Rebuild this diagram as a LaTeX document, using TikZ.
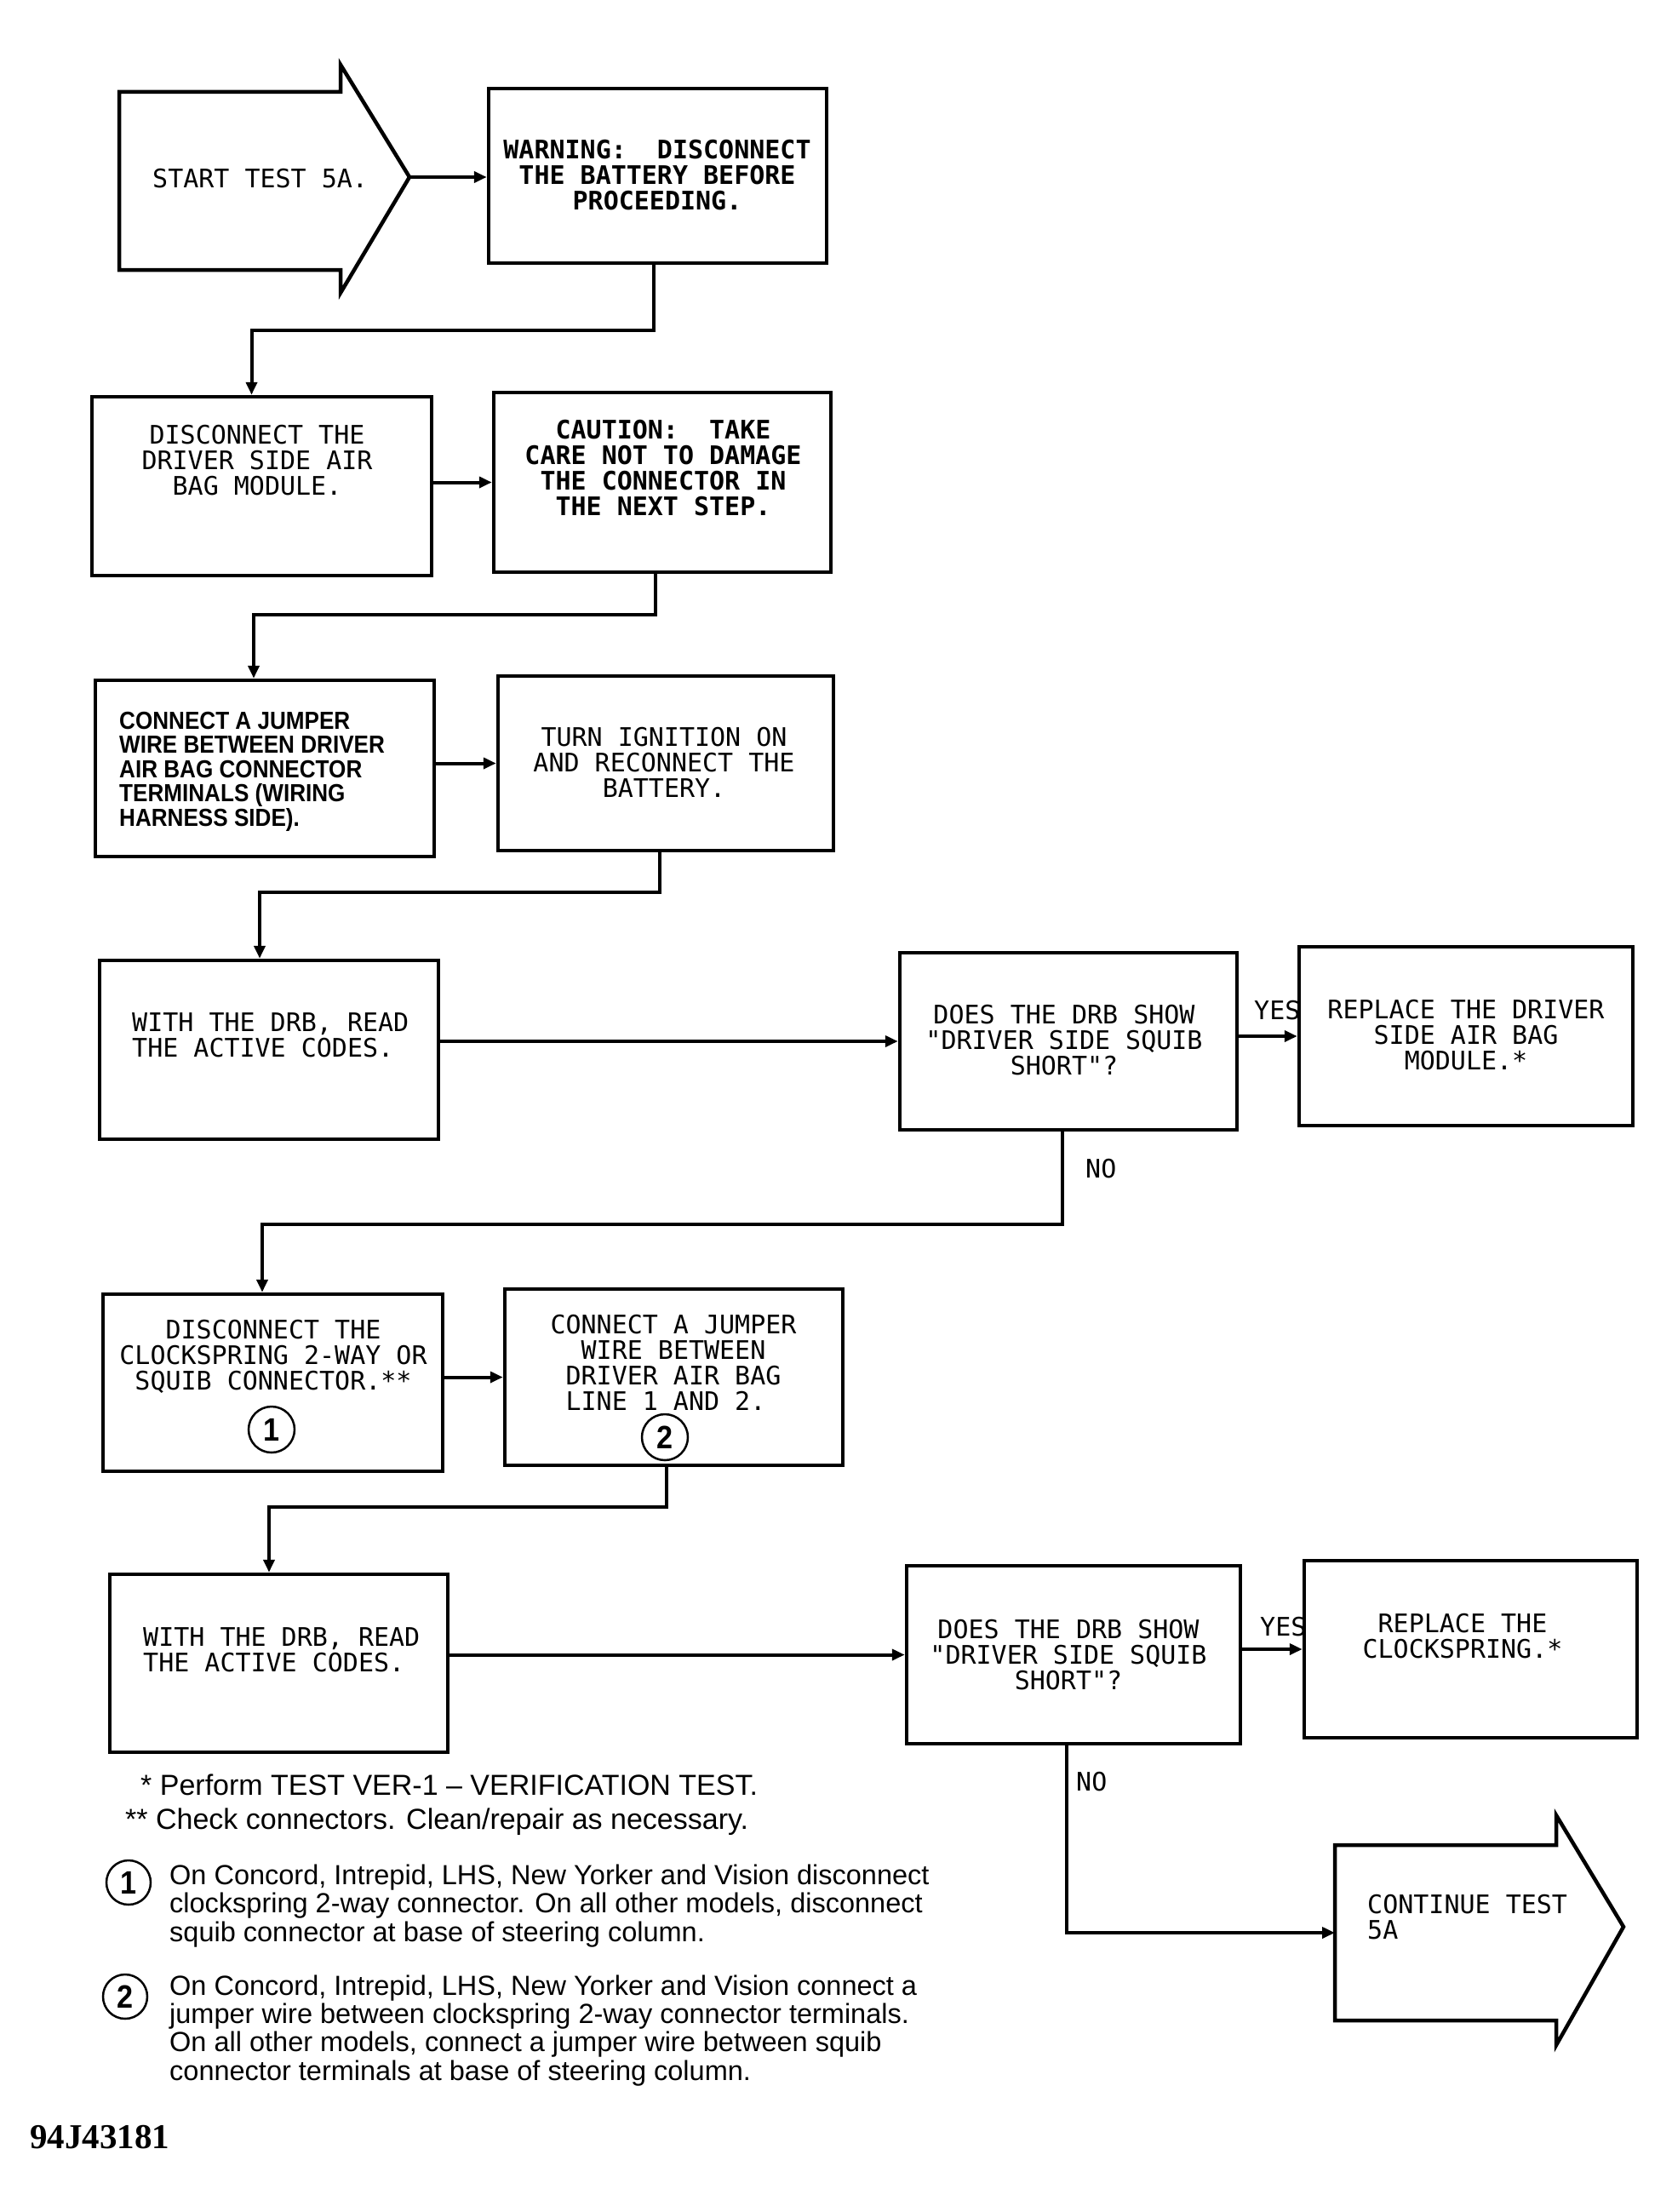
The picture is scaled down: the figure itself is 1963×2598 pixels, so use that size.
\documentclass[tikz,border=0pt]{standalone}
\usepackage{fontspec}
\usetikzlibrary{arrows.meta,calc}
\newfontfamily\boxf{DejaVu Sans Mono}
\newfontfamily\notef{Liberation Sans}
\newfontfamily\jumpf{Liberation Sans}[FakeStretch=0.9]
\newfontfamily\codef{Liberation Serif}
\tikzset{
  box/.style 2 args={draw, line width=4.5pt, inner sep=0pt, minimum width=#1, minimum height=#2},
  btxt/.style={font=\boxf\fontsize{30}{30}\selectfont, align=center, inner sep=0pt, anchor=base},
  bbtxt/.style={btxt, font=\boxf\bfseries\fontsize{30}{30}\selectfont},
  lbl/.style={font=\boxf\fontsize{30}{30}\selectfont, inner sep=0pt, anchor=base west},
  ntxt/.style={font=\notef\fontsize{32.5}{33.3}\selectfont, align=left, inner sep=0pt, anchor=base west},
  conn/.style={line width=4pt, -{Triangle[length=15pt,width=13pt]}},
  bigarrow/.style={draw, line width=4.5pt, line join=miter},
  circ/.style={draw, circle, line width=2.5pt, inner sep=0pt, minimum size=#1, font=\jumpf\bfseries\fontsize{38}{38}\selectfont},
}
\begin{document}
\begin{tikzpicture}[x=1pt,y=-1pt]
\fill[white] (0,0) rectangle (1963,2598);
\useasboundingbox (0,0) rectangle (1963,2598);

% start arrow
\draw[bigarrow] (140,108) -- (400,108) -- (400,76) -- (481,208) -- (400,344) -- (400,317) -- (140,317) -- cycle;
\coordinate (starttip) at (481,208);
\node[lbl] (startT) at (179,221) {START TEST 5A.};

% boxes
\node[box={397pt}{205pt}] (warn) at (772.5,206.5) {};
\node[box={399pt}{210pt}] (disc) at (307.5,571) {};
\node[box={396pt}{211pt}] (caut) at (778,566.5) {};
\node[box={398pt}{207pt}] (jump) at (311,902.5) {};
\node[box={394pt}{205pt}] (ign) at (782,896.5) {};
\node[box={398pt}{210pt}] (read1) at (316,1233) {};
\node[box={396pt}{208pt}] (dec1) at (1255,1223) {};
\node[box={392pt}{210pt}] (rep1) at (1722,1217) {};
\node[box={399pt}{208pt}] (clk) at (320.5,1624) {};
\node[box={397pt}{207pt}] (jmp2) at (791.5,1617.5) {};
\node[box={397pt}{209pt}] (read2) at (327.5,1953.5) {};
\node[box={392pt}{209pt}] (dec2) at (1261,1943.5) {};
\node[box={391pt}{208pt}] (rep2) at (1727.5,1937) {};

% continue arrow
\draw[bigarrow] (1568,2167) -- (1828,2167) -- (1828,2132) -- (1907,2263) -- (1828,2402) -- (1828,2373) -- (1568,2373) -- cycle;
\coordinate (contin) at (1568,2270);
\node[lbl, align=left] (contT) at (1606,2277) {CONTINUE TEST\\5A};

% box texts (anchor = baseline of the last line)
\node[bbtxt] (warnT) at (772,247) {WARNING:\ \ DISCONNECT\\THE BATTERY BEFORE\\PROCEEDING.};
\node[btxt] (discT) at (302,581) {DISCONNECT THE\\DRIVER SIDE AIR\\BAG MODULE.};
\node[bbtxt] (cautT) at (779,605) {CAUTION:\ \ TAKE\\CARE NOT TO DAMAGE\\THE CONNECTOR IN\\THE NEXT STEP.};
\node[font=\jumpf\bfseries\fontsize{29}{28.5}\selectfont, align=left, inner sep=0pt, anchor=base west] (jumpT) at (140,970)
  {CONNECT A JUMPER\\WIRE BETWEEN DRIVER\\AIR BAG CONNECTOR\\TERMINALS (WIRING\\HARNESS SIDE).};
\node[btxt] (ignT) at (780,936) {TURN IGNITION ON\\AND RECONNECT THE\\BATTERY.};
\node[lbl, align=left] (read1T) at (155,1241) {WITH THE DRB, READ\\THE ACTIVE CODES.};
\node[btxt] (dec1T) at (1250,1262) {DOES THE DRB SHOW\\"DRIVER SIDE SQUIB\\SHORT"?};
\node[btxt] (rep1T) at (1722,1256) {REPLACE THE DRIVER\\SIDE AIR BAG\\MODULE.*};
\node[btxt] (clkT) at (321,1632) {DISCONNECT THE\\CLOCKSPRING 2-WAY OR\\SQUIB CONNECTOR.**};
\node[btxt] (jmp2T) at (791,1656) {CONNECT A JUMPER\\WIRE BETWEEN\\DRIVER AIR BAG\\LINE 1 AND 2.\hphantom{X}};
\node[lbl, align=left] (read2T) at (168,1963) {WITH THE DRB, READ\\THE ACTIVE CODES.};
\node[btxt] (dec2T) at (1255,1984) {DOES THE DRB SHOW\\"DRIVER SIDE SQUIB\\SHORT"?};
\node[btxt] (rep2T) at (1718,1947) {REPLACE THE\\CLOCKSPRING.*};

% circled numbers in boxes
\node[circ=54pt] (c1) at (319,1679) {1};
\node[circ=54pt] (c2) at (781,1688) {2};

% connectors
\draw[conn] (starttip) -- (starttip -| warn.west);
\draw[conn] ([xshift=-5pt]warn.south) -- ++(0,77) -| ([xshift=-12pt]disc.north);
\draw[conn] (disc.east |- caut.west) -- (caut.west);
\draw[conn] ([xshift=-8pt]caut.south) -- ++(0,48) -| ([xshift=-13pt]jump.north);
\draw[conn] (jump.east |- ign.west) -- (ign.west);
\draw[conn] ([xshift=-7pt]ign.south) -- ++(0,47) -| ([xshift=-11pt]read1.north);
\draw[conn] (read1.east |- dec1.west) -- (dec1.west);
\draw[conn] (dec1.east |- rep1.west) -- (rep1.west);
\node[lbl] (yes1) at (1473,1197) {YES};
\draw[conn] ([xshift=-7pt]dec1.south) -- ++(0,109) -| ([xshift=-12.5pt]clk.north);
\node[lbl] (no1) at (1275,1383) {NO};
\draw[conn] (clk.east |- jmp2.west) -- (jmp2.west);
\draw[conn] ([xshift=-8.5pt]jmp2.south) -- ++(0,47) -| ([xshift=-11.5pt]read2.north);
\draw[conn] (read2.east |- dec2.west) -- (dec2.west);
\draw[conn] (dec2.east |- rep2.west) -- (rep2.west);
\node[lbl] (yes2) at (1480,1921) {YES};
\draw[conn] ([xshift=-8pt]dec2.south) |- (contin);
\node[lbl] (no2) at (1264,2103) {NO};

% footnotes
\node[ntxt, font=\notef\fontsize{34}{34}\selectfont] (f1) at (165,2108) {* Perform TEST VER-1 – VERIFICATION TEST.};
\node[ntxt, font=\notef\fontsize{34}{34}\selectfont] (f2) at (147,2148) {** Check connectors. Clean/repair as necessary.};
\node[circ=52pt] (fc1) at (151,2211) {1};
\node[ntxt] (n1) at (199,2280) {On Concord, Intrepid, LHS, New Yorker and Vision disconnect\\clockspring 2-way connector. On all other models, disconnect\\squib connector at base of steering column.};
\node[circ=52pt] (fc2) at (147,2345) {2};
\node[ntxt] (n2) at (199,2443) {On Concord, Intrepid, LHS, New Yorker and Vision connect a\\jumper wire between clockspring 2-way connector terminals.\\On all other models, connect a jumper wire between squib\\connector terminals at base of steering column.};
\node[font=\codef\bfseries\fontsize{41}{41}\selectfont, inner sep=0pt, anchor=base west] (code) at (35,2523) {94J43181};
\end{tikzpicture}
\end{document}
